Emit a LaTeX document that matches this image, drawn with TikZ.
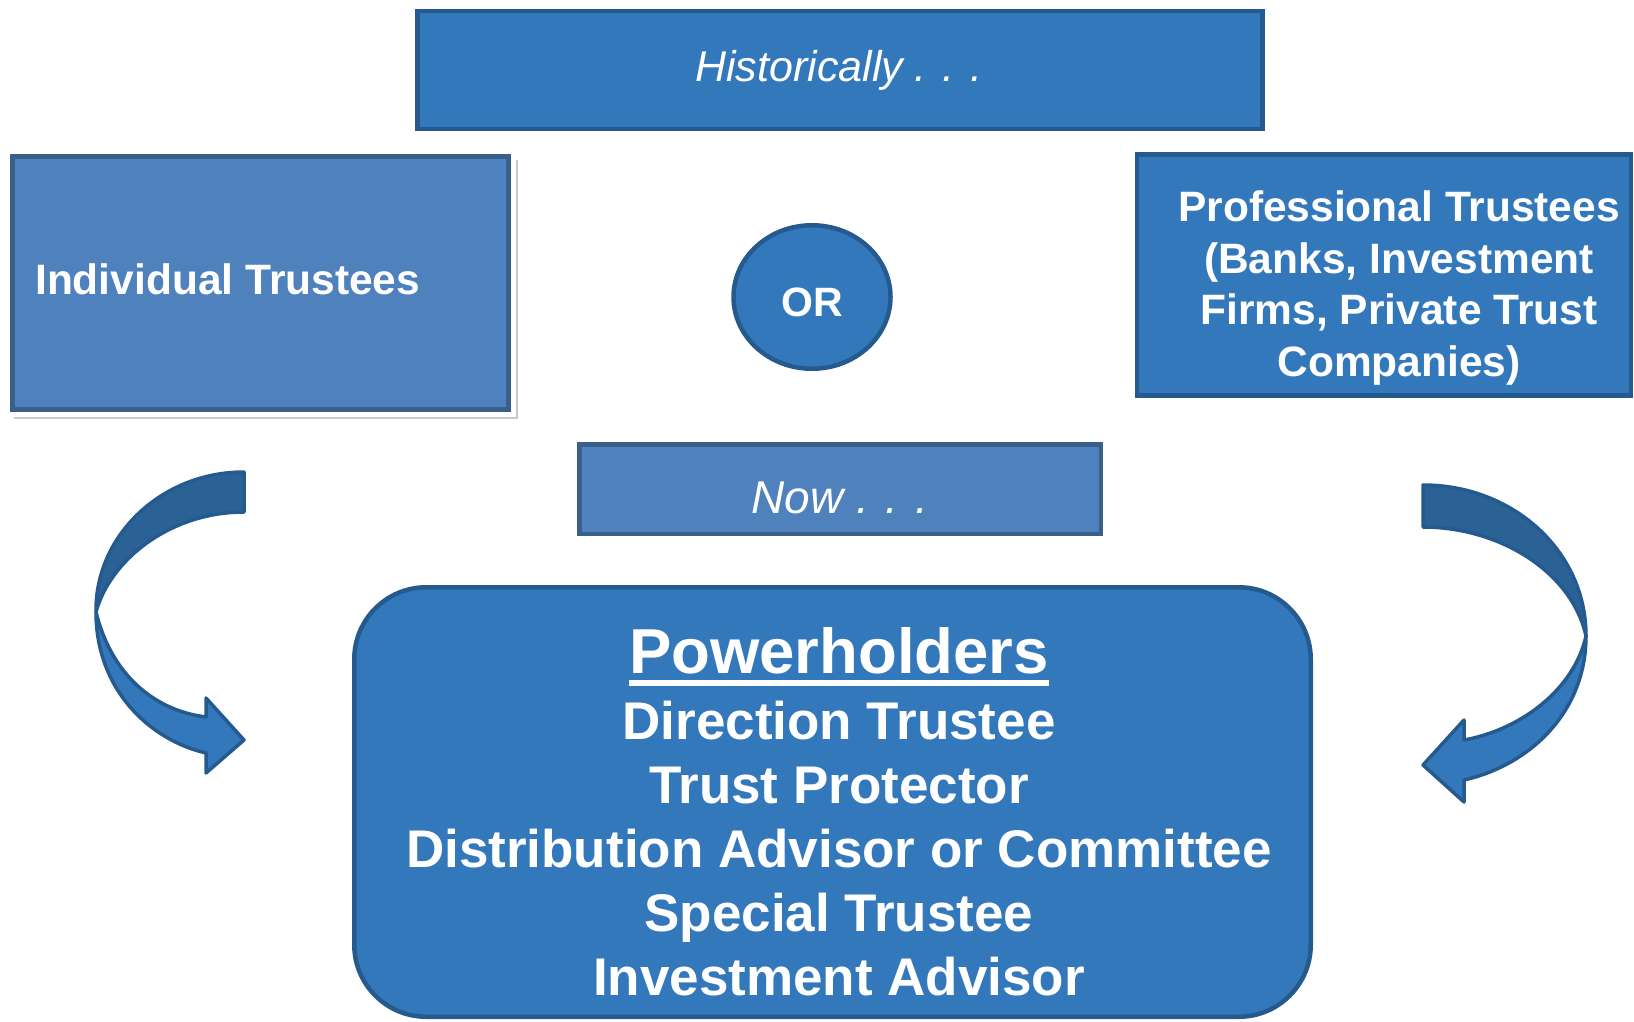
\documentclass[tikz,border=0pt]{standalone}
\usepackage{fontspec}
\setmainfont{Liberation Sans}
\usetikzlibrary{shapes.geometric}
\definecolor{boxblue}{HTML}{3478BC}
\definecolor{boxline}{HTML}{255A8E}
\definecolor{paleblue}{HTML}{4F81BD}
\definecolor{paleline}{HTML}{3A5F8B}
\definecolor{arrowdark}{HTML}{2A6296}
\definecolor{shadowgray}{HTML}{C8C8C8}
\tikzset{
  darkbox/.style={draw=boxline, fill=boxblue, line width=4.5pt, inner sep=0pt},
  palebox/.style={draw=paleline, fill=paleblue, line width=4.5pt, inner sep=0pt},
  boxtext/.style={text=white, inner sep=0pt, align=center, font=\fontsize{42.5}{51.4}\selectfont\bfseries},
  bentarrow/.style={draw=boxline, line width=3.5pt, line join=round},
}
\begin{document}
\begin{tikzpicture}[x=1pt, y=-1pt]
\useasboundingbox (0,0) rectangle (1634,1021);

\draw (14,418) -- (517,418) -- (517,160) [shadowgray, line width=1.5pt];

\node[darkbox, minimum width=845pt, minimum height=118pt] (hist) at (840,70) {};
\node[palebox, minimum width=496pt, minimum height=253pt] (indiv) at (260.5,283) {};
\node[darkbox, ellipse, minimum width=157pt, minimum height=143.5pt] (or) at (812,297) {};
\node[darkbox, minimum width=494pt, minimum height=241pt] (prof) at (1384,275) {};
\node[palebox, minimum width=521.5pt, minimum height=89.5pt] (now) at (840,489) {};
\node[darkbox, rounded corners=72pt, minimum width=956.5pt, minimum height=429.5pt] (power) at (832.5,802) {};

\node[boxtext, font=\fontsize{43}{50}\selectfont\itshape] (histtxt) at (839,70) {Historically . . .};
\node[boxtext, anchor=west] (indivtxt) at (35,279) {Individual Trustees};
\node[boxtext, font=\fontsize{41}{48}\selectfont\bfseries] (ortxt) at (812,302) {OR};
\node[boxtext] (proftxt) at (1399,288) {Professional Trustees\\(Banks, Investment\\Firms, Private Trust\\Companies)};
\node[boxtext, font=\fontsize{46}{52}\selectfont\itshape] (nowtxt) at (840,498) {Now . . .};
\node[boxtext, anchor=base, font=\fontsize{63.5}{70}\selectfont\bfseries] (powertxt) at (839,673) {Powerholders};
\draw[white, line width=5.5pt] ([yshift=-10pt]powertxt.base west) -- ([yshift=-10pt]powertxt.base east);
\node[boxtext, font=\fontsize{53}{64}\selectfont\bfseries] (powerlist) at (839,849) {Direction Trustee\\Trust Protector\\Distribution Advisor or Committee\\Special Trustee\\Investment Advisor};

% left bent arrow
\draw[bentarrow, fill=arrowdark] (244,472) .. controls (162,472) and (95,535) .. (96,612)
  .. controls (110,560) and (170,512) .. (244,512) -- cycle;
\draw[bentarrow, fill=boxblue] (96,612) .. controls (96,690) and (150,740) .. (206,753)
  -- (206,773) -- (244,740) -- (206,698) -- (206,717)
  .. controls (150,710) and (110,670) .. (96,612) -- cycle;

% right bent arrow
\draw[bentarrow, fill=arrowdark] (1423,485) .. controls (1512,485) and (1586,550) .. (1586,636)
  .. controls (1572,572) and (1500,527) .. (1423,527) -- cycle;
\draw[bentarrow, fill=boxblue] (1586,636) .. controls (1586,712) and (1530,765) .. (1464,780)
  -- (1464,802) -- (1423,765) -- (1464,720) -- (1464,740)
  .. controls (1520,730) and (1574,690) .. (1586,636) -- cycle;

\end{tikzpicture}
\end{document}
